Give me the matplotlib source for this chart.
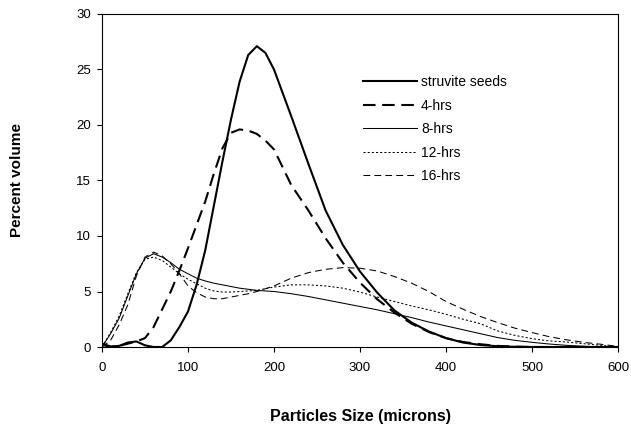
import numpy as np
import matplotlib
matplotlib.use("Agg")
import matplotlib.pyplot as plt

"""
Particle size distribution of struvite seeds and the grown crystals
after 4, 8, 12 and 16 hours.
"""

plt.rcParams['font.family'] = ['Liberation Sans', 'DejaVu Sans']

# particle size (microns)
sizes = [0, 10, 20, 30, 40, 50, 60, 70, 80, 90, 100, 110, 120, 130, 140, 150, 160, 170, 180, 190, 200,
         220, 240, 260, 280, 300, 320, 340, 360, 380, 400, 420, 440, 460, 480, 500, 520, 540, 560, 580, 600]

# percent volume
seeds = [0.3, 0.05, 0.1, 0.4, 0.5, 0.15, 0.0, 0.0, 0.6, 1.8, 3.2, 5.6, 8.7, 12.7, 16.7, 20.5, 23.9, 26.3, 27.1, 26.5, 25.0,
         20.8, 16.5, 12.3, 9.2, 6.8, 4.9, 3.3, 2.2, 1.4, 0.8, 0.4, 0.18, 0.07, 0.02, 0.0, 0.0, 0.0, 0.0, 0.0, 0.0]
hrs4 = [0.2, 0.0, 0.1, 0.3, 0.5, 0.8, 1.8, 3.4, 5.0, 6.9, 8.9, 11.0, 13.1, 15.6, 17.9, 19.3, 19.6, 19.5, 19.2, 18.6, 17.8,
        14.6, 12.3, 9.8, 7.6, 5.8, 4.3, 3.1, 2.1, 1.35, 0.8, 0.45, 0.25, 0.1, 0.03, 0.0, 0.0, 0.0, 0.0, 0.0, 0.0]
hrs8 = [0.0, 1.2, 2.6, 4.6, 6.6, 8.0, 8.4, 8.1, 7.6, 7.0, 6.6, 6.2, 5.95, 5.75, 5.6, 5.45, 5.3, 5.2, 5.1, 5.05, 5.0,
        4.8, 4.55, 4.25, 3.95, 3.65, 3.35, 3.0, 2.65, 2.25, 1.9, 1.55, 1.2, 0.85, 0.6, 0.42, 0.27, 0.15, 0.07, 0.02, 0.0]
hrs12 = [0.0, 1.3, 2.8, 4.8, 6.7, 7.9, 8.1, 7.8, 7.2, 6.6, 6.1, 5.7, 5.3, 5.05, 4.95, 4.95, 5.0, 5.05, 5.1, 5.25, 5.4,
         5.6, 5.6, 5.5, 5.3, 4.95, 4.5, 4.1, 3.7, 3.35, 2.95, 2.5, 2.1, 1.45, 1.05, 0.75, 0.55, 0.45, 0.3, 0.15, 0.02]
hrs16 = [0.0, 0.6, 2.0, 3.8, 6.4, 8.1, 8.55, 8.2, 7.5, 6.6, 5.5, 4.9, 4.5, 4.35, 4.35, 4.5, 4.65, 4.8, 5.0, 5.25, 5.5,
         6.2, 6.7, 7.0, 7.15, 7.1, 6.85, 6.35, 5.75, 5.0, 4.1, 3.4, 2.75, 2.2, 1.7, 1.3, 0.93, 0.65, 0.42, 0.25, 0.05]

labels = ['struvite seeds', '4-hrs', '8-hrs', '12-hrs', '16-hrs']

fig = plt.figure(figsize=(6.31, 4.32), dpi=100)
ax = fig.add_axes([102 / 631, 1 - 347 / 432, 516 / 631, 333 / 432])

ax.plot(sizes, seeds, color='black', lw=1.5, label=labels[0])
ax.plot(sizes, hrs4, color='black', lw=1.5, dashes=(6, 3.2), label=labels[1])
ax.plot(sizes, hrs8, color='black', lw=0.75, label=labels[2])
ax.plot(sizes, hrs12, color='black', lw=0.75, dashes=(2, 2), label=labels[3])
ax.plot(sizes, hrs16, color='black', lw=0.75, dashes=(6.5, 4), label=labels[4])

ax.set_xlim(0, 600)
ax.set_ylim(0, 30)
ax.set_xticks(np.arange(0, 601, 100))
ax.set_yticks(np.arange(0, 31, 5))
ax.tick_params(axis='both', direction='out', length=3.6, width=0.8, labelsize=9.5)
ax.tick_params(axis='y', pad=4.5)
ax.tick_params(axis='x', pad=7)
for s in ax.spines.values():
    s.set_linewidth(0.8)

ax.set_xlabel('Particles Size (microns)', fontsize=11.5, fontweight='bold')
ax.set_ylabel('Percent volume', fontsize=11, fontweight='bold')
ax.xaxis.set_label_coords(0.5, -0.186)
ax.yaxis.set_label_coords(-0.151, 0.5)

ax.legend(loc='upper left', bbox_to_anchor=(0.505, 0.817), frameon=False, fontsize=10,
          handlelength=3.9, handletextpad=0.3, labelspacing=0.69, borderpad=0, borderaxespad=0)

fig.savefig('out.png', dpi=100)
